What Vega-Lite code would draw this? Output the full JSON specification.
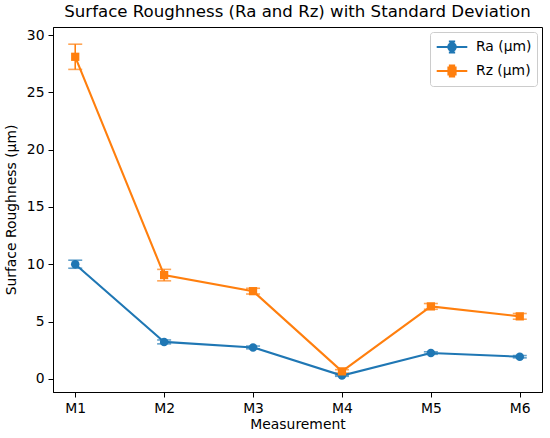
{
  "$schema": "https://vega.github.io/schema/vega-lite/v6.json",
  "autosize": {"type": "none"},
  "padding": {"left": 53, "top": 27, "right": 8, "bottom": 46},
  "width": 489,
  "height": 365,
  "background": "white",
  "title": {
    "text": "Surface Roughness (Ra and Rz) with Standard Deviation",
    "font": "DejaVu Sans",
    "fontSize": 16.6,
    "fontWeight": "normal",
    "color": "black",
    "offset": 6
  },
  "config": {
    "view": {"stroke": "black", "strokeWidth": 1},
    "axis": {
      "labelFont": "DejaVu Sans",
      "labelFontSize": 13.9,
      "labelColor": "black",
      "titleFont": "DejaVu Sans",
      "titleFontSize": 13.9,
      "titleFontWeight": "normal",
      "titleColor": "black",
      "domainColor": "black",
      "tickColor": "black",
      "tickSize": 5,
      "labelPadding": 4,
      "grid": false
    }
  },
  "data": {
    "values": [
      {"m": "M1", "s": "Ra (µm)", "v": 10.0, "lo": 9.65, "hi": 10.35},
      {"m": "M2", "s": "Ra (µm)", "v": 3.22, "lo": 3.05, "hi": 3.39},
      {"m": "M3", "s": "Ra (µm)", "v": 2.74, "lo": 2.62, "hi": 2.86},
      {"m": "M4", "s": "Ra (µm)", "v": 0.28, "lo": 0.22, "hi": 0.34},
      {"m": "M5", "s": "Ra (µm)", "v": 2.25, "lo": 2.14, "hi": 2.36},
      {"m": "M6", "s": "Ra (µm)", "v": 1.93, "lo": 1.83, "hi": 2.03},
      {"m": "M1", "s": "Rz (µm)", "v": 28.1, "lo": 27.0, "hi": 29.2},
      {"m": "M2", "s": "Rz (µm)", "v": 9.05, "lo": 8.55, "hi": 9.55},
      {"m": "M3", "s": "Rz (µm)", "v": 7.65, "lo": 7.4, "hi": 7.9},
      {"m": "M4", "s": "Rz (µm)", "v": 0.65, "lo": 0.5, "hi": 0.8},
      {"m": "M5", "s": "Rz (µm)", "v": 6.32, "lo": 6.07, "hi": 6.57},
      {"m": "M6", "s": "Rz (µm)", "v": 5.45, "lo": 5.2, "hi": 5.7}
    ]
  },
  "encoding": {
    "x": {
      "field": "m",
      "type": "ordinal",
      "title": "Measurement",
      "scale": {"type": "point", "padding": 0.25},
      "axis": {"labelAngle": 0, "titlePadding": 3}
    },
    "color": {
      "field": "s",
      "type": "nominal",
      "scale": {"domain": ["Ra (µm)", "Rz (µm)"], "range": ["#1f77b4", "#ff7f0e"]},
      "legend": {
        "title": null,
        "orient": "top-right",
        "offset": 5,
        "labelFont": "DejaVu Sans",
        "labelFontSize": 13.9,
        "labelColor": "black",
        "fillColor": "rgba(255,255,255,0.8)",
        "strokeColor": "#cccccc",
        "cornerRadius": 3,
        "padding": 5,
        "rowPadding": 4,
        "symbolSize": 324,
        "symbolStrokeWidth": 2,
        "symbolOpacity": 1,
        "labelOffset": 21,
        "encode": {
          "symbols": {
            "update": {
              "shape": {"signal": "datum.value === 'Ra (µm)' ? 'M-1.7,0H1.7M0,-0.6V0.6M-0.35,-0.6H0.35M-0.35,0.6H0.35M0.42,0A0.42,0.42 0 1,1 -0.42,0A0.42,0.42 0 1,1 0.42,0Z' : 'M-1.7,0H1.7M0,-0.6V0.6M-0.35,-0.6H0.35M-0.35,0.6H0.35M-0.4,-0.4H0.4V0.4H-0.4Z'"},
              "fill": {"signal": "scale('color', datum.value)"},
              "stroke": {"signal": "scale('color', datum.value)"},
              "xc": {"value": 17}
            }
          }
        }
      }
    }
  },
  "layer": [
    {
      "mark": {"type": "rule", "strokeWidth": 1.6},
      "encoding": {
        "y": {"field": "lo", "type": "quantitative"},
        "y2": {"field": "hi"}
      }
    },
    {
      "mark": {"type": "tick", "size": 14, "thickness": 1.6},
      "encoding": {
        "y": {"field": "lo", "type": "quantitative"}
      }
    },
    {
      "mark": {"type": "tick", "size": 14, "thickness": 1.6},
      "encoding": {
        "y": {"field": "hi", "type": "quantitative"}
      }
    },
    {
      "mark": {"type": "line", "strokeWidth": 2.1},
      "encoding": {
        "y": {
          "field": "v",
          "type": "quantitative",
          "title": "Surface Roughness (µm)",
          "scale": {"domain": [-1.15, 30.7], "nice": false, "zero": false},
          "axis": {"values": [0, 5, 10, 15, 20, 25, 30], "titlePadding": 8}
        }
      }
    },
    {
      "transform": [{"filter": "datum.s === 'Ra (µm)'"}],
      "mark": {"type": "point", "filled": true, "opacity": 1, "shape": "circle", "size": 72},
      "encoding": {
        "y": {"field": "v", "type": "quantitative"}
      }
    },
    {
      "transform": [{"filter": "datum.s === 'Rz (µm)'"}],
      "mark": {"type": "point", "filled": true, "opacity": 1, "shape": "square", "size": 68},
      "encoding": {
        "y": {"field": "v", "type": "quantitative"}
      }
    }
  ]
}
